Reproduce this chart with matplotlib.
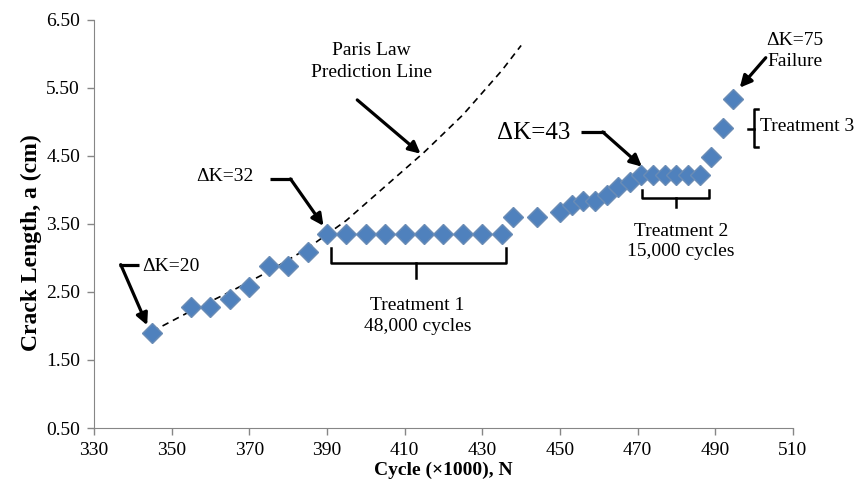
import matplotlib
matplotlib.use('Agg')
import matplotlib.pyplot as plt

plt.rcParams['font.family'] = ['Liberation Serif', 'DejaVu Serif']

# measured points (cycles x1000, crack length cm)
cycles = [345, 355, 360, 365, 370, 375, 380, 385,
          390, 395, 400, 405, 410, 415, 420, 425, 430, 435,
          438, 444, 450, 453, 456, 459, 462, 465, 468,
          471, 474, 477, 480, 483, 486, 489, 492, 494.5]
crack = [1.90, 2.28, 2.28, 2.40, 2.57, 2.88, 2.88, 3.08,
         3.35, 3.35, 3.35, 3.35, 3.35, 3.35, 3.35, 3.35, 3.35, 3.35,
         3.60, 3.60, 3.67, 3.77, 3.84, 3.84, 3.92, 4.04, 4.12,
         4.22, 4.22, 4.22, 4.22, 4.22, 4.22, 4.48, 4.91, 5.34]

# Paris law prediction line
paris_x = [345, 355, 365, 375, 385, 395, 405, 415, 425, 435, 440]
paris_y = [1.92, 2.22, 2.50, 2.80, 3.14, 3.55, 4.05, 4.55, 5.10, 5.75, 6.12]

xticks = [330, 350, 370, 390, 410, 430, 450, 470, 490, 510]
yticks = [0.5, 1.5, 2.5, 3.5, 4.5, 5.5, 6.5]

fig = plt.figure(figsize=(8.59, 4.9), dpi=100)
ax = fig.add_axes([0.1094, 0.1265, 0.8137, 0.8335])

ax.plot(paris_x, paris_y, color='black', linestyle=(0, (4, 3)), linewidth=1.2, zorder=2)
ax.plot(cycles, crack, linestyle='none', marker='D', markersize=10.5,
        markerfacecolor='#4F81BD', markeredgecolor='#6a8cb5', markeredgewidth=1, zorder=3)

ax.set_xlim(330, 510)
ax.set_ylim(0.5, 6.5)
ax.set_xticks(xticks)
ax.set_yticks(yticks)
ax.set_yticklabels([f'{v:.2f}' for v in yticks])
ax.tick_params(labelsize=14, direction='out', length=5, color='#868686', width=1, pad=5)
for s in ['top', 'right']:
    ax.spines[s].set_visible(False)
for s in ['left', 'bottom']:
    ax.spines[s].set_color('#868686')
ax.set_xlabel('Cycle (×1000), N', fontsize=14, fontweight='bold', labelpad=2)
ax.set_ylabel('Crack Length, a (cm)', fontsize=17, fontweight='bold')
ax.yaxis.set_label_coords(-0.075, 0.455)

lw = 2.3
arrow = dict(arrowstyle='-|>,head_length=0.7,head_width=0.35', color='black', lw=lw,
             shrinkA=0, shrinkB=0)
fs = 14
ls = 1.3

# ΔK=20
ax.text(342.4, 2.88, 'ΔK=20', fontsize=fs, va='center', ha='left')
ax.plot([336.4, 341.6], [2.90, 2.90], color='black', lw=lw, solid_capstyle='butt')
ax.annotate('', xy=(343.7, 2.01), xytext=(336.9, 2.90), arrowprops=arrow)

# ΔK=32
ax.text(356.3, 4.19, 'ΔK=32', fontsize=fs, va='center', ha='left')
ax.plot([375.4, 381.1], [4.16, 4.16], color='black', lw=lw, solid_capstyle='butt')
ax.annotate('', xy=(389.1, 3.47), xytext=(380.6, 4.16), arrowprops=arrow)

# ΔK=43
ax.text(433.9, 4.84, 'ΔK=43', fontsize=18, va='center', ha='left')
ax.plot([455.3, 461.5], [4.85, 4.85], color='black', lw=lw, solid_capstyle='butt')
ax.annotate('', xy=(471.1, 4.34), xytext=(461.0, 4.85), arrowprops=arrow)

# Paris law label
ax.text(401.4, 5.88, 'Paris Law\nPrediction Line', fontsize=fs, ha='center', va='center',
        linespacing=1.4)
ax.annotate('', xy=(414.1, 4.53), xytext=(397.8, 5.32), arrowprops=arrow)

# ΔK=75 failure
ax.text(510.5, 6.04, 'ΔK=75\nFailure', fontsize=fs, ha='center', va='center',
        linespacing=ls, clip_on=False)
ax.annotate('', xy=(496.3, 5.50), xytext=(503.0, 5.94), arrowprops=arrow,
            annotation_clip=False)

# Treatment 1 bracket
ax.plot([391.0, 391.0, 436.1, 436.1], [3.14, 2.93, 2.93, 3.14], color='black', lw=1.8)
ax.plot([412.9, 412.9], [2.93, 2.71], color='black', lw=1.8)
ax.text(413.3, 2.15, 'Treatment 1\n48,000 cycles', fontsize=fs, ha='center', va='center',
        linespacing=ls)

# Treatment 2 bracket
ax.plot([471.2, 471.2, 488.4, 488.4], [4.00, 3.88, 3.88, 4.00], color='black', lw=1.8)
ax.plot([479.8, 479.8], [3.88, 3.75], color='black', lw=1.8)
ax.text(481.1, 3.24, 'Treatment 2\n15,000 cycles', fontsize=fs, ha='center', va='center',
        linespacing=ls)

# Treatment 3 bracket
ax.plot([501.0, 499.9, 499.9, 501.0], [5.18, 5.18, 4.63, 4.63], color='black', lw=1.8,
        clip_on=False)
ax.plot([499.9, 498.5], [4.90, 4.90], color='black', lw=1.8, clip_on=False)
ax.text(501.5, 4.93, 'Treatment 3', fontsize=fs, ha='left', va='center', clip_on=False)

fig.savefig('out.png', dpi=100)
